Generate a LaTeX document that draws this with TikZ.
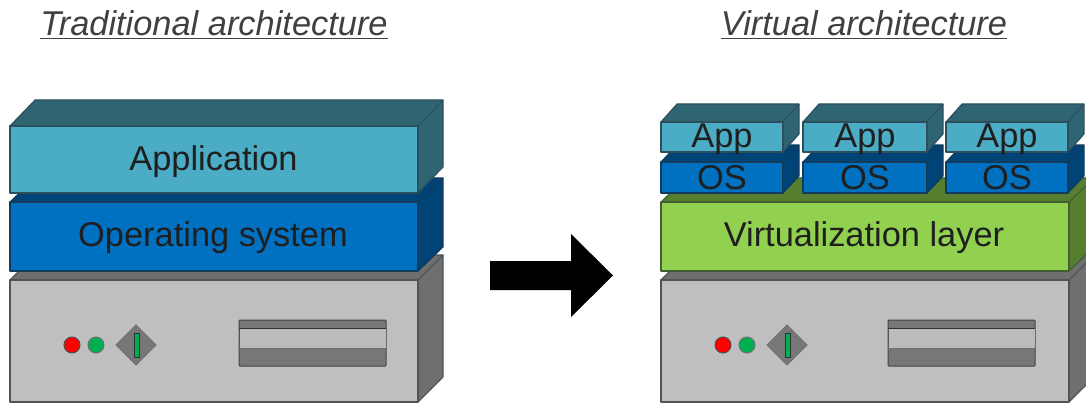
\documentclass[tikz,border=0pt]{standalone}
\usepackage{fontspec}
\setmainfont{Liberation Sans}
\definecolor{appf}{HTML}{4BACC6}
\definecolor{appd}{HTML}{2F6473}
\definecolor{osf}{HTML}{0070C0}
\definecolor{osd}{HTML}{004377}
\definecolor{virf}{HTML}{92D050}
\definecolor{vird}{HTML}{557F2F}
\definecolor{srvf}{HTML}{BFBFBF}
\definecolor{srvd}{HTML}{6F6F6F}
\definecolor{edge}{HTML}{2A343B}
\definecolor{ledr}{HTML}{FF0000}
\definecolor{ledg}{HTML}{00B050}
\tikzset{
  face/.style={draw=#1!55!edge,line width=1.1pt,line join=round},
  label text/.style={font=\fontsize{34.4}{38}\selectfont,text=black!88,inner sep=0pt,anchor=center},
  title text/.style={font=\fontsize{34.4}{38}\selectfont\itshape,text=black!75,inner sep=0pt,anchor=base},
}
\newcommand{\slab}[8]{%
  \draw[face=#8,fill=#8] (#1,#3) -- (#1+#5,#3-#6) -- (#2+#5,#3-#6) -- (#2+#5,#4-#6) -- (#2,#4) -- (#2,#3) -- cycle;
  \draw[face=#8] (#2,#3) -- (#2+#5,#3-#6);
  \draw[face=#8,fill=#7] (#1,#3) rectangle (#2,#4);
}
\newcommand{\srvparts}[2]{%
  \begin{scope}[xshift=#1pt]
    \draw[draw=srvd!70!black,line width=1pt,fill=ledr] (72,345) circle (8);
    \draw[draw=srvd,line width=1pt,fill=ledg] (96,345) circle (8);
    \draw[draw=srvd,line width=.8pt,fill=srvd!90!srvf] (116,345) -- (136,325) -- (156,345) -- (136,365) -- cycle;
    \draw[draw=edge,line width=1pt,fill=ledg] (134.5,333) rectangle (139,357);
  \end{scope}
  \begin{scope}[xshift=#2pt]
    \draw[draw=edge!70!srvd,line width=1pt,fill=srvd!90!srvf,rounded corners=.8] (239,320) rectangle (386,366);
    \fill[srvf!95!srvd] (239.5,328) rectangle (385.5,348);
    \draw[edge,line width=1pt] (239,328) -- (386,328);
    \draw[srvd,line width=1pt] (239,348) -- (386,348);
  \end{scope}
}
\begin{document}
\begin{tikzpicture}[x=1pt,y=-1pt]
\useasboundingbox (0,0) rectangle (1086,403);
\begin{scope}
\clip (0,0) rectangle (1086,403);
\slab{10}{418}{280}{402}{25}{25}{srvf}{srvd}
\srvparts{0}{0}
\slab{10}{418}{202}{271}{25}{24}{osf}{osd}
\slab{10}{418}{126}{193}{25}{26}{appf}{appd}
\node[label text] (osl) at (213,238) {Operating system};
\node[label text] (appl) at (213.5,161.5) {Application};
\slab{661}{1069}{280}{402}{25}{25}{srvf}{srvd}
\srvparts{651}{649}
\slab{661}{1069}{202}{271}{25}{24}{virf}{vird}
\node[label text] (virl) at (864,238) {Virtualization layer};
\foreach \xa/\xb/\nm in {661/783/a,803/927/b,946/1068/c}{
  \slab{\xa}{\xb}{162}{193}{16}{17}{osf}{osd}
  \slab{\xa}{\xb}{122}{152}{16}{18}{appf}{appd}
  \node[label text] (app\nm) at ({(\xa+\xb)/2},139) {App};
  \node[label text] (os\nm) at ({(\xa+\xb)/2},177.5) {OS};
}
\end{scope}
\fill[black] (490,261) -- (571,261) -- (571,234) -- (613,275.5) -- (571,317) -- (571,290) -- (490,290) -- cycle;
\node[title text] (t1) at (214,36) {\underline{Traditional architecture}};
\node[title text] (t2) at (864,36) {\underline{Virtual architecture}};
\end{tikzpicture}
\end{document}
